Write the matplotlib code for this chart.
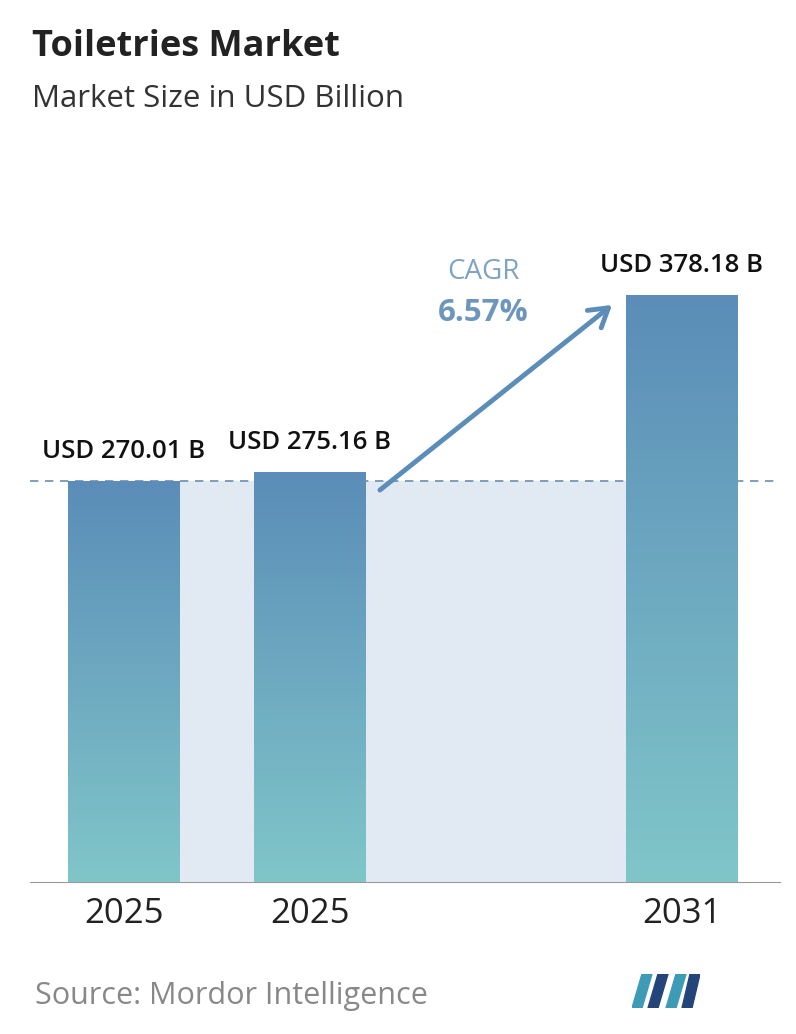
import matplotlib.pyplot as plt
import numpy as np
from matplotlib.patches import Polygon

years = ["2025", "2025", "2031"]
values = [270.01, 275.16, 378.18]
labels = ["USD 270.01 B", "USD 275.16 B", "USD 378.18 B"]
cagr = "6.57%"
positions = [0.0, 1.0, 3.0]

W, H = 796, 1034
FONT = "Open Sans"
fig = plt.figure(figsize=(W / 100, H / 100), dpi=100)
ax = fig.add_axes([30 / W, (H - 882) / H, 750 / W, 700 / H])
ax.set_xlim(-0.505, 3.527)
ybot = 37
ax.set_ylim(ybot, ybot + (378.18 - ybot) * 700 / 587)
bw = 0.6

ax.fill_between([positions[0], positions[2]], ybot, values[0], color="#e1eaf3", zorder=0)
ax.axhline(values[0], color="#6b8fae", ls=(0, (5, 4)), lw=1.2, zorder=1)

grad = np.linspace(0, 1, 256).reshape(-1, 1)
top_c = np.array([0x5b, 0x8d, 0xb8]) / 255
bot_c = np.array([0x80, 0xc6, 0xc9]) / 255
img = bot_c + (top_c - bot_c) * grad
for x, v, lab in zip(positions, values, labels):
    ax.imshow(img[:, None, :].repeat(2, axis=1), extent=[x - bw / 2, x + bw / 2, ybot, v],
              origin="lower", aspect="auto", zorder=2)
    ax.text(x, v + 10, lab, ha="center", va="bottom", fontsize=18.5, fontweight="semibold",
            family=FONT, color="#111111")

ax.set_xticks(positions)
ax.set_xticklabels(years, fontsize=25, family=FONT, color="#222222")
ax.tick_params(length=0, pad=11)
for s in ["top", "right", "left"]:
    ax.spines[s].set_visible(False)
ax.spines["bottom"].set_color("#999999")
ax.set_yticks([])

ax.annotate("", xy=(2.624, 372.4), xytext=(1.376, 264.8),
            arrowprops=dict(arrowstyle="->,head_length=1.3,head_width=0.8", color="#5b8db8",
                            lw=3.5, shrinkA=0, shrinkB=0), zorder=3)
ax.text(1.93, 391.5, "CAGR", ha="center", va="center", fontsize=20, color="#7fa3c2", family=FONT)
ax.text(1.93, 367.7, cagr, ha="center", va="center", fontsize=22.5, fontweight="bold",
        color="#6e96bd", family=FONT)

fig.text(32 / W, 1 - 47 / H, "Toiletries Market", fontsize=26, fontweight="bold",
         family=FONT, color="#222222", va="center")
fig.text(32 / W, 1 - 99 / H, "Market Size in USD Billion", fontsize=22.5,
         family=FONT, color="#333333", va="center")
fig.text(35 / W, 1 - 996 / H, "Source: Mordor Intelligence", fontsize=22,
         family=FONT, color="#888888", va="center")

la = fig.add_axes([632 / W, 1 - 1008 / H, 68 / W, 34 / H])
la.set_xlim(0, 68)
la.set_ylim(0, 34)
la.axis("off")
la.add_patch(Polygon([(0, 0), (10, 34), (20, 34), (10, 0)], color="#3e9bb5"))
la.add_patch(Polygon([(16, 0), (26, 0), (36, 34), (26, 34)], color="#23457a"))
la.add_patch(Polygon([(34, 0), (44, 34), (54, 34), (44, 0)], color="#3e9bb5"))
la.add_patch(Polygon([(50, 0), (60, 0), (68, 34), (58, 34)], color="#23457a"))

fig.savefig("out.png", dpi=100)
